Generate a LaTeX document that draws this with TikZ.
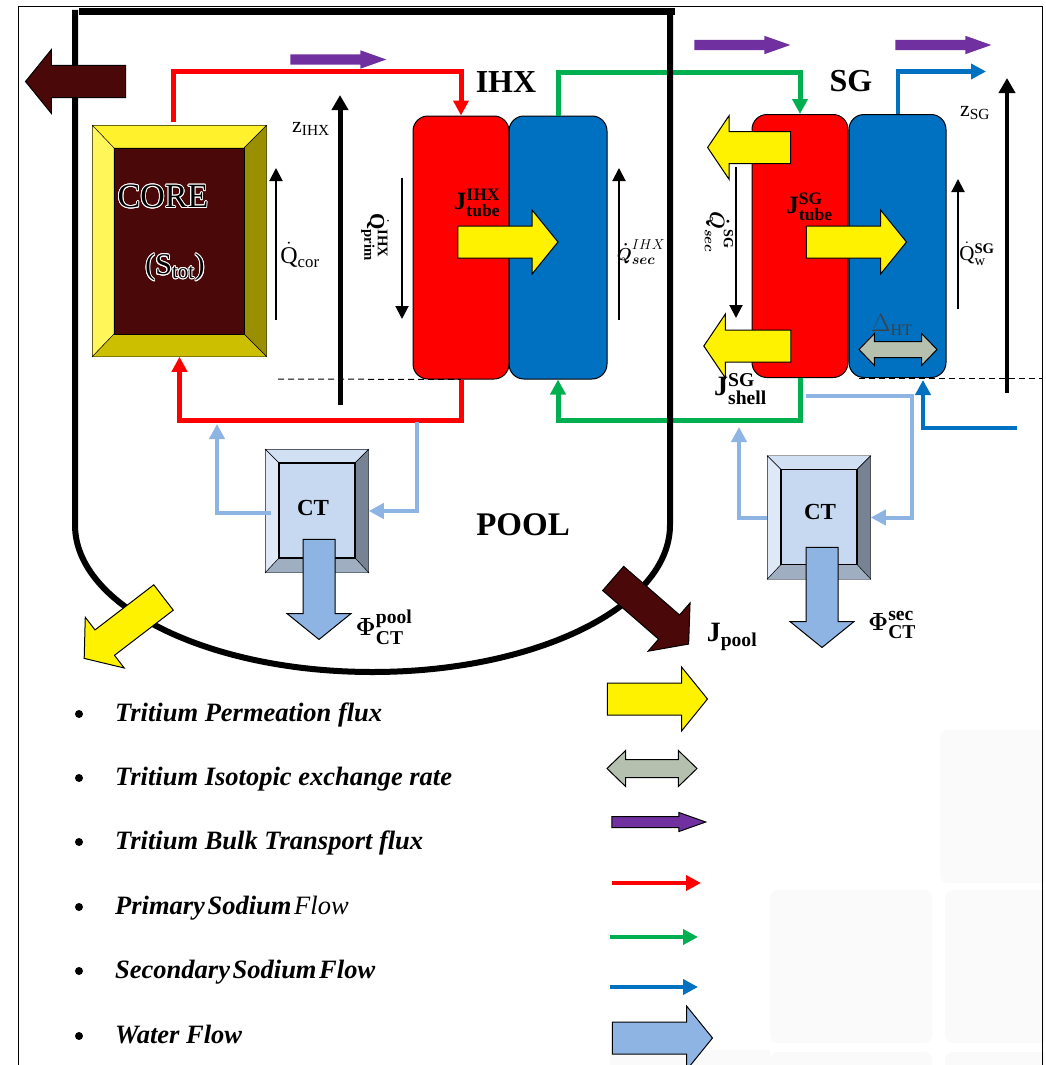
\documentclass[tikz,border=0pt]{standalone}
\usepackage{fontspec}
\usepackage{amsmath}
\usepackage{contour}
\setmainfont{Liberation Serif}
\usetikzlibrary{arrows.meta,shapes.arrows,calc}

\definecolor{naRed}{HTML}{FF0000}
\definecolor{naBlue}{HTML}{0070C0}
\definecolor{naGreen}{HTML}{00B050}
\definecolor{bulkPurple}{HTML}{7030A0}
\definecolor{waterBlue}{HTML}{8EB4E3}
\definecolor{permYellow}{HTML}{FFF200}
\definecolor{coreBrown}{HTML}{4A0808}
\definecolor{isoGrey}{HTML}{B5C1AE}
\definecolor{coreTop}{HTML}{FFF12B}
\definecolor{coreLeft}{HTML}{FFF65A}
\definecolor{coreRight}{HTML}{998F00}
\definecolor{coreBot}{HTML}{CCBF00}
\definecolor{ctTop}{HTML}{D2E0F3}
\definecolor{ctLeft}{HTML}{DEE8F6}
\definecolor{ctRight}{HTML}{778392}
\definecolor{ctBot}{HTML}{9FAFC1}
\definecolor{ctMid}{HTML}{C6D9F1}
\contourlength{0.9pt}

\tikzset{
    hxbox/.style={draw=black, line width=1pt, rounded corners=15pt, minimum width=96pt, minimum height=263pt, inner sep=0pt},
    flowline/.style={line width=#1, -{Triangle[length=15pt,width=15pt]}},
    thinup/.style={line width=2pt, -{Triangle[length=13pt,width=13pt]}},
    thickup/.style={line width=5pt, -{Triangle[length=15pt,width=16pt]}},
    bigarrow/.style={single arrow, draw=black, line width=1pt, inner sep=0pt, text height=31pt, text depth=0pt, text width=1pt,
        minimum height=100pt, single arrow head extend=16pt, single arrow tip angle=102},
    permarrow/.style={bigarrow, fill=permYellow},
    brownarrow/.style={bigarrow, fill=coreBrown},
    waterarrow/.style={bigarrow, fill=waterBlue},
    bulkarrow/.style={single arrow, fill=bulkPurple, inner sep=0pt, text height=10pt, text depth=0pt, text width=1pt,
        minimum height=96pt, single arrow head extend=4pt, single arrow tip angle=39},
    isoarrow/.style={double arrow, draw=black, fill=isoGrey, line width=1pt, inner sep=0pt, text height=15pt, text depth=0pt, text width=1pt,
        double arrow head extend=8pt, double arrow tip angle=92},
    legendtext/.style={anchor=base west, inner sep=0pt, font=\fontsize{26.5}{28}\selectfont\bfseries\itshape},
    boldlabel/.style={font=\fontsize{#1}{#1}\selectfont\bfseries, inner sep=0pt},
    mathlabel/.style={font=\fontsize{#1}{#1}\selectfont, inner sep=0pt}
}

\begin{document}
\begin{tikzpicture}[x=1pt,y=-1pt]
    \clip (0,0) rectangle (1045,1065);
    \fill[white] (0,0) rectangle (1045,1065);

    % Filigrana
    \foreach \tx/\ty/\tw/\th in {770/890/162/153,945/890/110/153,940/730/115/153,770/1052/162/40,945/1052/110/40}
        \fill[gray!4, rounded corners=8pt] (\tx,\ty) rectangle ++(\tw,\th);
    \fill[gray!4] (610,1050) rectangle (770,1065);

    % Cornice
    \draw[line width=1pt] (18,1075) |- (1042,7) -- (1042,1075);

    % Scambiatori
    \node[hxbox, fill=naRed] (ihxred) at (461,247.5) {};
    \node[hxbox, fill=naBlue, minimum width=98pt] (ihxblue) at (558,247.5) {};
    \node[hxbox, fill=naRed] (sgred) at (800,246) {};
    \node[hxbox, fill=naBlue, minimum width=97pt] (sgblue) at (897.5,246) {};

    % Core
    \node[draw=black, line width=1.5pt, minimum width=173pt, minimum height=230pt, inner sep=0pt] (core) at (179.5,241) {};
    \draw[fill=coreTop] (core.north west) -- (core.north east) -- (244,148) -- (114,148) -- cycle;
    \draw[fill=coreLeft] (core.north west) -- (114,148) -- (114,334) -- (core.south west) -- cycle;
    \draw[fill=coreRight] (core.north east) -- (244,148) -- (244,334) -- (core.south east) -- cycle;
    \draw[fill=coreBot] (core.south west) -- (114,334) -- (244,334) -- (core.south east) -- cycle;
    \draw[fill=coreBrown] (114,148) rectangle (244,334);
    \node[font=\fontsize{34}{36}\selectfont, inner sep=0pt] at (163,197) {\contour{white}{CORE}};
    \node[font=\fontsize{30}{32}\selectfont, inner sep=0pt] at (175,268) {\contour{white}{(S$_{\text{tot}}$)}};

    % Trappole fredde
    \foreach \ctname/\cx/\cy/\tx/\ty in {ctpool/317/511/-4/-3,ctsec/819/517.5/1/-5.5} {
        \node[draw=black, line width=1.5pt, minimum width=102pt, minimum height=122pt, inner sep=0pt, fill=ctMid] (\ctname) at (\cx,\cy) {};
        \draw[fill=ctTop] (\ctname.north west) -- (\ctname.north east) -- ($(\cx,\cy)+(38,-48)$) -- ($(\cx,\cy)+(-38,-48)$) -- cycle;
        \draw[fill=ctLeft] (\ctname.north west) -- ($(\cx,\cy)+(-38,-48)$) -- ($(\cx,\cy)+(-38,47)$) -- (\ctname.south west) -- cycle;
        \draw[fill=ctRight] (\ctname.north east) -- ($(\cx,\cy)+(38,-48)$) -- ($(\cx,\cy)+(38,47)$) -- (\ctname.south east) -- cycle;
        \draw[fill=ctBot] (\ctname.south west) -- ($(\cx,\cy)+(-38,47)$) -- ($(\cx,\cy)+(38,47)$) -- (\ctname.south east) -- cycle;
        \draw[line width=1.5pt, fill=ctMid] ($(\cx,\cy)+(-38,-48)$) rectangle ($(\cx,\cy)+(38,47)$);
        \node[boldlabel=23] at ($(\cx,\cy)+(\tx,\ty)$) {CT};
    }

    % Tratteggi
    \draw[line width=1pt, dash pattern=on 6pt off 4pt] (278,379) -- (ihxred.south);
    \draw[line width=1pt, dash pattern=on 6pt off 4pt] (859,378) -- (1042,378);

    % Circuito primario
    \draw[flowline=5pt, naRed] ([xshift=-6pt,yshift=3pt]core.north) -- ++(0,-51) -| (ihxred.north);
    \draw[flowline=5pt, naRed] (ihxred.south) -- ++(0,41) -| (core.south);

    % Circuito secondario
    \draw[flowline=5pt, naGreen] (ihxblue.north) -- ++(0,-43) -| (sgred.north);
    \draw[flowline=5pt, naGreen] (sgred.south) -- ++(0,42) -| (ihxblue.south);

    % Acqua
    \coordinate (waterout) at (986,71.5);
    \coordinate (waterin) at (1017,427.5);
    \draw[flowline=4pt, naBlue] (sgblue.north) |- (waterout);
    \draw[flowline=4pt, naBlue] (waterin) -| ([xshift=25.5pt,yshift=-2pt]sgblue.south);

    % Derivazioni CT
    \coordinate (pooltap) at (417,422);
    \coordinate (poolret) at (217,424);
    \coordinate (sectap) at (806,396);
    \coordinate (secdrop) at (912,450);
    \coordinate (secret) at (739,427);
    \draw[flowline=4pt, waterBlue] (pooltap) |- (ctpool.east);
    \draw[flowline=4pt, waterBlue] ([shift={(6pt,-2pt)}]ctpool.west) -| (poolret);
    \draw[flowline=4pt, waterBlue] (sectap) -| (secdrop) |- (ctsec.east);
    \draw[flowline=4pt, waterBlue] (ctsec.west) -| (secret);

    % Recipiente
    \draw[line width=6pt] (75,10) -- (75,525) .. controls (75,606) and (208,672) .. (372.5,672) .. controls (537,672) and (670,606) .. (670,525) -- (670,10);
    \draw[line width=7pt] (79,12) -- (675,12);

    % Frecce sottili
    \coordinate (qcorA) at (276,320); \coordinate (qcorB) at (276,168);
    \coordinate (qprimA) at (402,178); \coordinate (qprimB) at (402,319);
    \coordinate (qsecA) at (619,320); \coordinate (qsecB) at (619,168);
    \coordinate (qsgA) at (736,167); \coordinate (qsgB) at (736,318);
    \coordinate (qwA) at (958,309); \coordinate (qwB) at (958,179);
    \coordinate (zihxA) at (340,405); \coordinate (zihxB) at (340,95);
    \coordinate (zsgA) at (1007,393); \coordinate (zsgB) at (1007,78);
    \draw[thinup] (qcorA) -- (qcorB);
    \draw[thinup] (qprimA) -- (qprimB);
    \draw[thinup] (qsecA) -- (qsecB);
    \draw[thinup] (qsgA) -- (qsgB);
    \draw[thinup] (qwA) -- (qwB);
    \draw[thickup] (zihxA) -- (zihxB);
    \draw[thickup, line width=4pt] (zsgA) -- (zsgB);

    % Frecce grandi
    \node[brownarrow, rotate=180] (poolout) at (82,81.5) {};
    \node[permarrow] (permihx) at (501.5,242) {};
    \node[permarrow] (permsg) at (850,242) {};
    \node[permarrow, rotate=180, minimum height=83pt, single arrow tip angle=112] (permtop) at (754.5,147.5) {};
    \node[permarrow, rotate=180, minimum height=87pt, single arrow tip angle=112] (permlow) at (752.7,346) {};
    \node[permarrow, rotate=217.5] (permpool) at (129,624) {};
    \node[brownarrow, rotate=-41] (jpool) at (646,607) {};
    \node[waterarrow, rotate=-90] (phipool) at (319,583) {};
    \node[waterarrow, rotate=-90] (phisec) at (822,591) {};
    \node[isoarrow, minimum height=78pt] (delta) at (898,349.5) {};
    \node[bulkarrow] (bulkA) at (331,59.5) {};
    \node[bulkarrow] (bulkB) at (735,45) {};
    \node[bulkarrow] (bulkC) at (936,45) {};

    % Etichette
    \node[boldlabel=32] at (506,82) {IHX};
    \node[boldlabel=32] at (851,81) {SG};
    \node[boldlabel=33] at (523,525) {POOL};
    \node[mathlabel=22] at (311,129) {$\mathrm{z}_{\mathrm{IHX}}$};
    \node[mathlabel=22] at (975,113) {$\mathrm{z}_{\mathrm{SG}}$};
    \node[mathlabel=24] at (300,255) {$\dot{\mathrm{Q}}_{\mathrm{cor}}$};
    \node[mathlabel=21, rotate=-90] at (375,237) {$\dot{\mathbf{Q}}^{\mathbf{IHX}}_{\mathbf{prim}}$};
    \node[mathlabel=20, rotate=-90] at (719,232) {$\boldsymbol{\dot{Q}}^{\mathbf{SG}}_{\boldsymbol{sec}}$};
    \node[mathlabel=19] at (641,252) {$\boldsymbol{\dot{Q}}^{IHX}_{\boldsymbol{sec}}$};
    \node[mathlabel=21] at (977,254) {$\dot{\mathrm{Q}}^{\mathbf{SG}}_{\mathrm{w}}$};
    \node[mathlabel=25] at (477,203) {$\mathbf{J}^{\mathbf{IHX}}_{\mathbf{tube}}$};
    \node[mathlabel=25] at (809.5,207) {$\mathbf{J}^{\mathbf{SG}}_{\mathbf{tube}}$};
    \node[mathlabel=23, text=black!75] at (892,325) {$\Delta_{\mathrm{HT}}$};
    \node[mathlabel=28] at (740.5,389) {$\mathbf{J}^{\mathbf{SG}}_{\mathbf{shell}}$};
    \node[mathlabel=28] at (732,637) {$\mathbf{J}_{\mathbf{pool}}$};
    \node[mathlabel=28] at (384,627) {$\boldsymbol{\Phi}^{\mathbf{pool}}_{\mathbf{CT}}$};
    \node[mathlabel=28] at (892,625) {$\boldsymbol{\Phi}^{\mathbf{sec}}_{\mathbf{CT}}$};

    % Legenda
    \foreach \ly/\ltext in {714/Tritium Permeation flux,778/Tritium Isotopic exchange rate,842/Tritium Bulk Transport flux,907/Primary\hspace{-4pt} Sodium\hspace{-4pt} {\mdseries Flow},971/Secondary\hspace{-4pt} Sodium\hspace{-4pt} Flow,1036/Water Flow} {
        \fill (79,\ly) circle (4pt);
        \node[legendtext] at (115,\ly+7) {\ltext};
    }
    \node[permarrow] (legperm) at (651,699) {};
    \node[isoarrow, minimum height=90pt, text height=17pt, double arrow head extend=9pt, double arrow tip angle=88] (legiso) at (652,768.5) {};
    \node[bulkarrow, draw=black, line width=1pt, minimum height=94pt] (legbulk) at (651,822) {};
    \coordinate (legredA) at (612,883); \coordinate (legredB) at (701,883);
    \coordinate (leggreenA) at (610,937); \coordinate (leggreenB) at (698,937);
    \coordinate (legblueA) at (610,987); \coordinate (legblueB) at (698,987);
    \draw[flowline=4pt, naRed] (legredA) -- (legredB);
    \draw[flowline=4pt, naGreen] (leggreenA) -- (leggreenB);
    \draw[flowline=4pt, naBlue] (legblueA) -- (legblueB);
    \node[waterarrow] (legwater) at (656,1038) {};
\end{tikzpicture}
\end{document}
